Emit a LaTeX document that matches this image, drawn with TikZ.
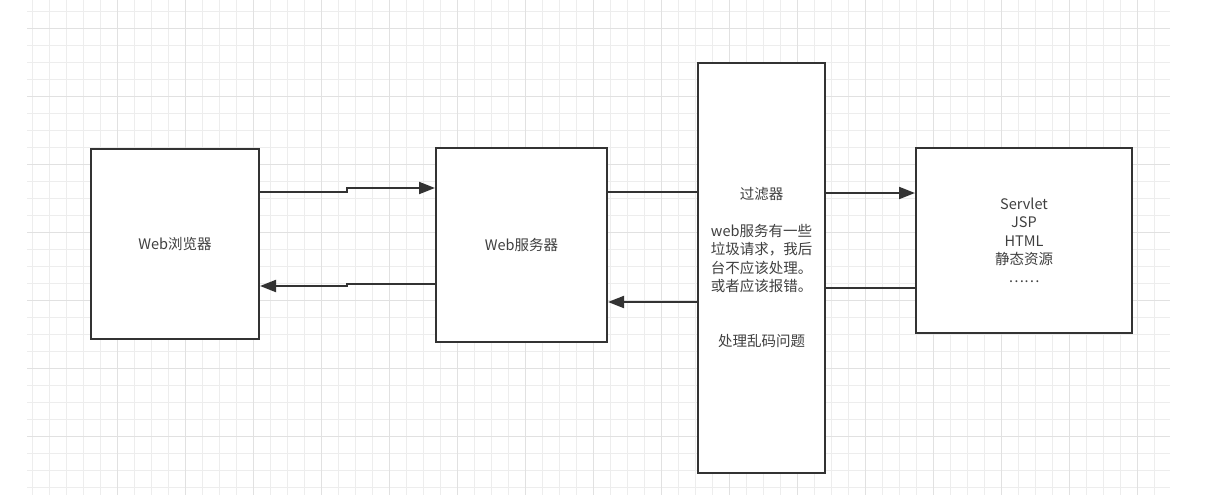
\documentclass[tikz,border=0pt]{standalone}
\usepackage{fontspec}
\setmainfont{Noto Sans CJK SC}
\usetikzlibrary{arrows.meta,positioning,calc}
\definecolor{gridminor}{RGB}{237,237,237}
\definecolor{gridmajor}{RGB}{225,225,225}
\definecolor{boxline}{RGB}{51,51,51}
\definecolor{boxtext}{RGB}{64,64,64}

\begin{document}
\begin{tikzpicture}[x=1pt,y=-1pt,
	box/.style={draw=boxline, line width=2pt, fill=white, align=center, inner sep=0pt,
		text=boxtext, font=\fontsize{14.5}{18.4}\selectfont},
	link/.style={draw=boxline, line width=2pt},
	tip/.style={link, -{Triangle[length=16pt,width=12pt]}}]
	\useasboundingbox[fill=white] (0,0) rectangle (1214,495);
	% grid
	\foreach \x in {32,49,...,1170} \draw[gridminor, line width=1pt] (\x,0) -- (\x,495);
	\foreach \y in {11.3,28.3,...,495} \draw[gridminor, line width=1pt] (27,\y) -- (1170,\y);
	\foreach \x in {117,185,...,1170} \draw[gridmajor, line width=1pt] (\x,0) -- (\x,495);
	\foreach \y in {28.3,96.3,...,495} \draw[gridmajor, line width=1pt] (27,\y) -- (1170,\y);
	% boxes
	\node[box, minimum width=168pt, minimum height=190pt] (browser) at (175,244) {Web浏览器};
	\node[box, minimum width=171pt, minimum height=194pt] (server) at (521.5,245) {Web服务器};
	\node[box, minimum width=127pt, minimum height=410pt] (filter) at (761.5,267.5)
		{过滤器\\[18.4pt]web服务有一些\\垃圾请求，我后\\台不应该处理。\\或者应该报错。\\[36.8pt]处理乱码问题};
	\node[box, minimum width=216pt, minimum height=185pt] (servlet) at (1024,240.5)
		{Servlet\\JSP\\HTML\\静态资源\\……};
	% links
	\draw[tip] (browser.east |- 0,192) -- (347,192) -- (347,188) -- (server.west |- 0,188);
	\draw[tip] (server.west |- 0,284) -- (347,284) -- (347,286) -- (browser.east |- 0,286);
	\draw[link] (server.east |- 0,192) -- (filter.west |- 0,192);
	\draw[tip] (filter.west |- 0,302) -- (server.east |- 0,302);
	\draw[tip] (filter.east |- 0,193) -- (servlet.west |- 0,193);
	\draw[link] (servlet.west |- 0,288) -- (filter.east |- 0,288);
\end{tikzpicture}
\end{document}
